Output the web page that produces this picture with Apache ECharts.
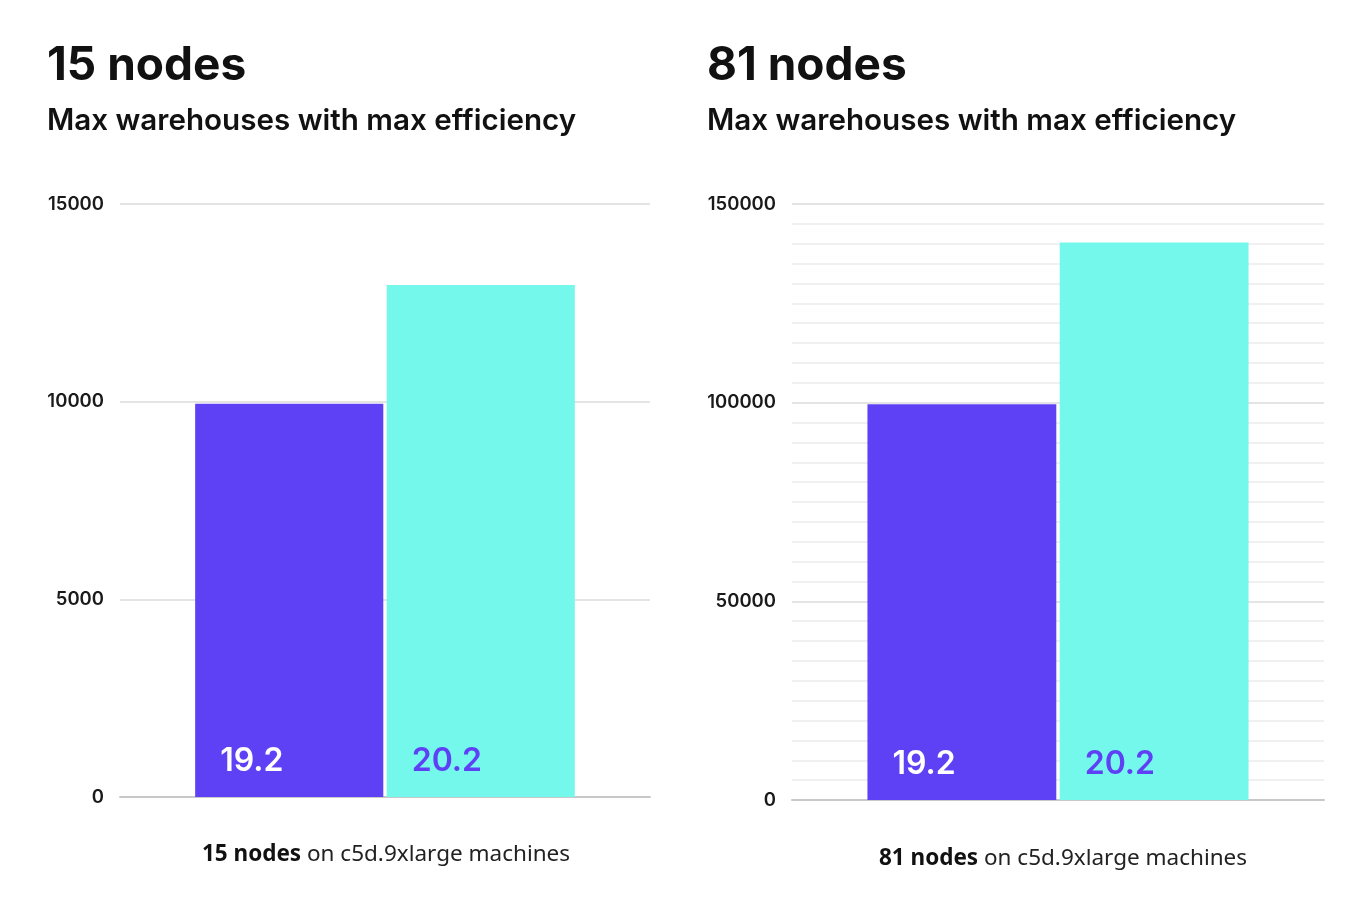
<!DOCTYPE html>
<html>
<head>
<meta charset="utf-8">
<script src="https://cdn.jsdelivr.net/npm/echarts@6/dist/echarts.min.js"></script>
<style>
html,body{margin:0;padding:0;background:#fff;}
#c{width:1346px;height:912px;}
</style>
</head>
<body>
<div id="c"></div>
<script>
// Data
const panelTitles = ['15 nodes', '81 nodes'];
const subtitle = 'Max warehouses with max efficiency';
const nodeCounts = ['15 nodes', '81 nodes'];
const machineText = ' on c5d.9xlarge machines';
const versions = ['19.2', '20.2'];
const left_v192 = [9950];
const left_v202 = [12950];
const right_v192 = [99600];
const right_v202 = [140300];
const leftTicks = { min: 0, max: 15000, interval: 5000 };
const rightTicks = { min: 0, max: 150000, interval: 50000 };

const PURPLE = '#5f41f5';
const CYAN = '#75f8ec';
const TITLE_FONT = 'Inter, "Noto Sans", sans-serif';
const BODY_FONT = '"Noto Sans", "Open Sans", sans-serif';

const chart = echarts.init(document.getElementById('c'));

function yAxis(idx, t, minor) {
  return {
    type: 'value', gridIndex: idx, min: t.min, max: t.max, interval: t.interval,
    axisLine: { show: false }, axisTick: { show: false },
    axisLabel: { color: '#1a1a1a', fontSize: 18.5, fontWeight: 600, fontFamily: TITLE_FONT, margin: 16,
      formatter: v => String(v) },
    splitLine: { lineStyle: { color: '#e4e4e4', width: 2 } },
    minorTick: { show: false, splitNumber: 10 },
    minorSplitLine: { show: minor, lineStyle: { color: '#ececec', width: 1.5 } }
  };
}
function xAxis(idx) {
  return {
    type: 'category', gridIndex: idx, data: ['x'],
    axisLine: { lineStyle: { color: '#c8c8c8', width: 2 } },
    axisTick: { show: false }, axisLabel: { show: false }
  };
}
function bar(idx, name, data, color, labelColor, z) {
  return {
    type: 'bar', name: name, xAxisIndex: idx, yAxisIndex: idx, data: data,
    barWidth: '35.5%', barGap: '1.8%', z: z,
    itemStyle: { color: color },
    label: {
      show: true, position: 'insideBottomLeft', distance: 0, offset: [25, -20],
      formatter: '{a}', color: labelColor, fontSize: 32, fontWeight: 600, fontFamily: TITLE_FONT
    }
  };
}

const titles = [];
[[42, 0], [702, 1]].forEach(([x, i]) => {
  titles.push({ text: panelTitles[i], left: x, top: 38,
    textStyle: { fontSize: 46, fontWeight: 700, color: '#111', fontFamily: TITLE_FONT } });
  titles.push({ text: subtitle, left: x, top: 101,
    textStyle: { fontSize: 29.6, fontWeight: 600, color: '#111', fontFamily: TITLE_FONT } });
});
[[381, 838, 0], [1058, 842, 1]].forEach(([cx, y, i]) => {
  titles.push({
    text: '{b|' + nodeCounts[i] + '}{n|' + machineText + '}',
    left: cx, top: y, textAlign: 'center',
    textStyle: { rich: {
      b: { fontSize: 22.5, fontWeight: 700, color: '#111', fontFamily: BODY_FONT },
      n: { fontSize: 22.5, fontWeight: 400, color: '#222', fontFamily: BODY_FONT }
    } }
  });
});

chart.setOption({
  backgroundColor: '#fff',
  animation: false,
  title: titles,
  grid: [
    { left: 120, right: 696, top: 204, bottom: 115 },
    { left: 792, right: 22, top: 204, bottom: 112 }
  ],
  xAxis: [xAxis(0), xAxis(1)],
  yAxis: [yAxis(0, leftTicks, false), yAxis(1, rightTicks, true)],
  series: [
    bar(0, versions[0], left_v192, PURPLE, '#ffffff', 2),
    bar(0, versions[1], left_v202, CYAN, PURPLE, 2),
    bar(1, versions[0], right_v192, PURPLE, '#ffffff', 2),
    bar(1, versions[1], right_v202, CYAN, PURPLE, 2)
  ]
});
</script>
</body>
</html>
